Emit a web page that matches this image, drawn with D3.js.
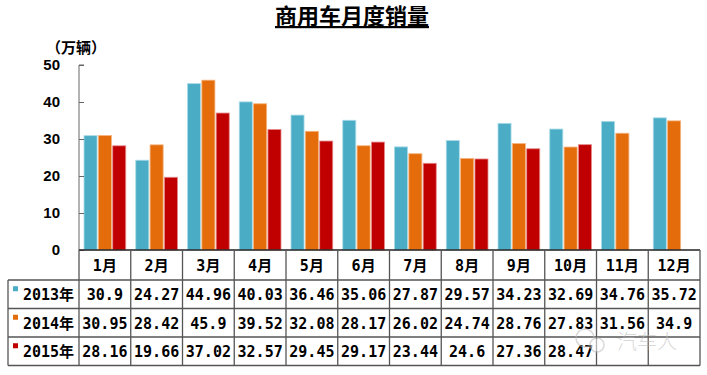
<!DOCTYPE html>
<html>
<head>
<meta charset="utf-8">
<script src="https://cdn.jsdelivr.net/npm/d3@7"></script>
<style>
  body { margin: 0; background: #fff; }
  text { font-family: "Noto Sans CJK SC", sans-serif; }
</style>
</head>
<body>
<svg id="chart"></svg>
<script>
// data
const months = ["1月", "2月", "3月", "4月", "5月", "6月", "7月", "8月", "9月", "10月", "11月", "12月"];
const years = ["2013年", "2014年", "2015年"];
const sales2013 = [30.9, 24.27, 44.96, 40.03, 36.46, 35.06, 27.87, 29.57, 34.23, 32.69, 34.76, 35.72];
const sales2014 = [30.95, 28.42, 45.9, 39.52, 32.08, 28.17, 26.02, 24.74, 28.76, 27.83, 31.56, 34.9];
const sales2015 = [28.16, 19.66, 37.02, 32.57, 29.45, 29.17, 23.44, 24.6, 27.36, 28.47, null, null];
const yTicks = [0, 10, 20, 30, 40, 50];

const series = [sales2013, sales2014, sales2015];
const colors = ["#4BACC6", "#E46C0A", "#C00000"];
const edges = ["#a9dbe8", "#f5b47e", "#e58a8a"];

const W = 707, H = 375;
const plot = { left: 79, right: 700, top: 65, bottom: 250 };
const headH = 30, rowH = 28.5, tableLeft = 8;

const svg = d3.select("#chart").attr("width", W).attr("height", H);

const x = d3.scaleBand().domain(months).range([plot.left, plot.right]);
const x1 = d3.scaleBand().domain(years).range([5, x.bandwidth() - 5]).paddingInner(0.09);
const y = d3.scaleLinear().domain([0, 50]).range([plot.bottom, plot.top]);

// title
svg.append("text")
    .attr("x", 352).attr("y", 24)
    .attr("text-anchor", "middle")
    .style("font-size", "22px").style("font-weight", "bold")
    .style("text-decoration", "underline")
    .text("商用车月度销量");

svg.append("text")
    .attr("x", 46).attr("y", 53)
    .style("font-size", "15px").style("font-weight", "bold")
    .text("（万辆）");

// bars
const data = months.flatMap((m, i) => years.map((yr, j) => ({ m, yr, j, v: series[j][i] })))
    .filter(d => d.v != null);

svg.append("g")
    .selectAll("rect")
    .data(data)
    .join("rect")
        .attr("x", d => x(d.m) + x1(d.yr))
        .attr("y", d => y(d.v))
        .attr("width", x1.bandwidth())
        .attr("height", d => y(0) - y(d.v))
        .attr("fill", d => colors[d.j])
        .attr("stroke", d => edges[d.j])
        .attr("stroke-width", 0.8);

// y axis
const yAxis = svg.append("g")
    .attr("transform", `translate(${plot.left},0)`)
    .call(d3.axisRight(y).tickValues(yTicks).tickSize(5).tickFormat(""));
yAxis.select(".domain").attr("stroke", "#666").attr("d", `M5,${plot.top}H0V${plot.bottom}`);
yAxis.selectAll(".tick line").attr("stroke", "#666");

svg.append("g")
    .selectAll("text")
    .data(yTicks)
    .join("text")
        .attr("x", 60)
        .attr("y", d => y(d) + 5)
        .attr("text-anchor", "end")
        .style("font-family", "Arial, 'Liberation Sans', sans-serif")
        .style("font-size", "15px").style("font-weight", "bold")
        .text(d => d);

// data table
const table = svg.append("g");
const tableBottom = plot.bottom + headH + rowH * years.length;
const lineColor = "#555";

// horizontal lines
table.append("line")
    .attr("x1", plot.left).attr("x2", plot.right).attr("y1", plot.bottom).attr("y2", plot.bottom)
    .attr("stroke", "#222").attr("stroke-width", 1.5);
d3.range(years.length + 1).forEach(k => {
    const yy = plot.bottom + headH + rowH * k;
    table.append("line")
        .attr("x1", tableLeft).attr("x2", plot.right).attr("y1", yy).attr("y2", yy)
        .attr("stroke", lineColor).attr("stroke-width", 1.3);
});

// vertical lines
const vx = months.map(m => x(m)).concat([plot.right]);
vx.forEach(xx => {
    table.append("line")
        .attr("x1", xx).attr("x2", xx).attr("y1", plot.bottom).attr("y2", tableBottom)
        .attr("stroke", lineColor).attr("stroke-width", 1.3);
});
table.append("line")
    .attr("x1", tableLeft).attr("x2", tableLeft).attr("y1", plot.bottom + headH).attr("y2", tableBottom)
    .attr("stroke", lineColor).attr("stroke-width", 1.3);

const monoFont = "'DejaVu Sans Mono', 'Noto Sans CJK SC', monospace";

table.selectAll(".month")
    .data(months)
    .join("text")
        .attr("class", "month")
        .attr("x", d => x(d) + x.bandwidth() / 2)
        .attr("y", plot.bottom + headH / 2 + 6)
        .attr("text-anchor", "middle")
        .style("font-family", monoFont)
        .style("font-size", "15px").style("font-weight", "bold")
        .text(d => d);

years.forEach((yr, j) => {
    const cy = plot.bottom + headH + rowH * j + rowH / 2;
    table.append("rect")
        .attr("x", 13).attr("y", cy - 8)
        .attr("width", 5).attr("height", 5)
        .attr("fill", colors[j]);
    table.append("text")
        .attr("x", 23).attr("y", cy + 6)
        .style("font-family", monoFont)
        .style("font-size", "15px").style("font-weight", "bold")
        .text(yr);
    table.append("g")
        .selectAll("text")
        .data(months.map((m, i) => ({ m, v: series[j][i] })).filter(d => d.v != null))
        .join("text")
            .attr("x", d => x(d.m) + x.bandwidth() / 2)
            .attr("y", cy + 6)
            .attr("text-anchor", "middle")
            .style("font-family", monoFont)
            .style("font-size", "15px").style("font-weight", "bold")
            .text(d => String(d.v));
});

// watermark
const wm = svg.append("g").attr("opacity", 0.55);
wm.append("circle").attr("cx", 585).attr("cy", 338).attr("r", 9)
    .attr("fill", "none").attr("stroke", "#bbb").attr("stroke-width", 1.5);
wm.append("circle").attr("cx", 597).attr("cy", 345).attr("r", 7)
    .attr("fill", "#fff").attr("stroke", "#bbb").attr("stroke-width", 1.5);
wm.append("text")
    .attr("x", 617).attr("y", 349)
    .style("font-size", "20px").style("font-weight", "300")
    .attr("fill", "#bbb")
    .text("汽车人");
</script>
</body>
</html>
